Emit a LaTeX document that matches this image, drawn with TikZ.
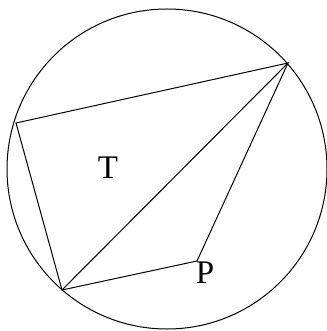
\documentclass[tikz,border=0pt]{standalone}
\usepackage{fontspec}
\setmainfont{Liberation Serif}
\usetikzlibrary{positioning}

\begin{document}
\begin{tikzpicture}[
      x=0.5pt, y=-0.5pt, line width=0.5pt,
      lbl/.style={font=\fontsize{16.5}{19}\selectfont, inner sep=0pt}]
    \useasboundingbox (0,0) rectangle (326,331);

    \coordinate (O) at (167,169);
    \coordinate (A) at (288,63);
    \coordinate (B) at (16,123);
    \coordinate (C) at (62,290);
    \coordinate (P) at (197,261);

    \draw (O) circle[radius=80pt];
    \draw (B) -- (A) -- (C) -- cycle;
    \draw (C) -- (P) -- (A);

    \node[lbl] (tlabel) at (108,168) {T};
    \node[lbl] (plabel) at (205,273) {P};
  \end{tikzpicture}
\end{document}
